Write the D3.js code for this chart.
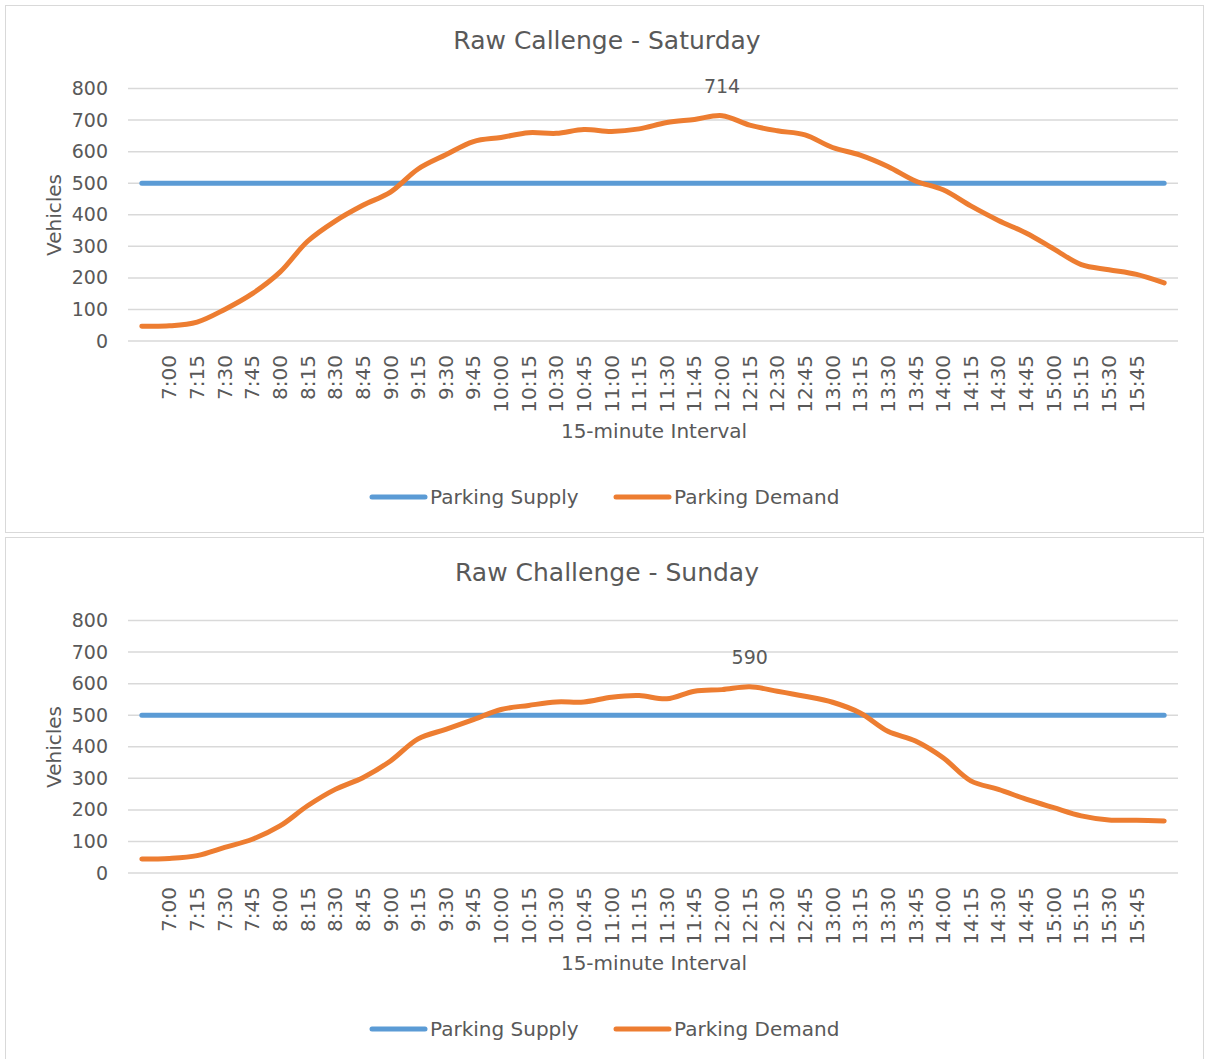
<!DOCTYPE html>
<html>
<head>
<meta charset="utf-8">
<script src="https://cdn.jsdelivr.net/npm/d3@7"></script>
<style>
  html, body { margin: 0; padding: 0; background: #fff; }
  svg text { font-family: "DejaVu Sans", sans-serif; fill: #595959; }
</style>
</head>
<body>
<svg id="chart" width="1206" height="1059"></svg>
<script>
// ---- data ----
const timeLabels = ["", "7:00", "7:15", "7:30", "7:45", "8:00", "8:15", "8:30", "8:45",
  "9:00", "9:15", "9:30", "9:45", "10:00", "10:15", "10:30", "10:45", "11:00", "11:15",
  "11:30", "11:45", "12:00", "12:15", "12:30", "12:45", "13:00", "13:15", "13:30", "13:45",
  "14:00", "14:15", "14:30", "14:45", "15:00", "15:15", "15:30", "15:45", ""];
const yTicks = [0, 100, 200, 300, 400, 500, 600, 700, 800];
const seriesNames = ["Parking Supply", "Parking Demand"];
const supplySat = timeLabels.map(() => 500);
const demandSat = [47, 48, 60, 100, 150, 218, 316, 380, 430, 472, 545, 590, 632, 645, 660, 658,
  670, 664, 672, 692, 702, 714, 684, 666, 653, 613, 589, 553, 507, 479, 428, 382, 342, 292,
  242, 226, 211, 184];
const supplySun = timeLabels.map(() => 500);
const demandSun = [44, 46, 55, 81, 107, 149, 213, 265, 302, 355, 425, 455, 486, 518, 531, 542,
  542, 557, 562, 552, 576, 581, 590, 576, 560, 541, 507, 449, 418, 365, 292, 265, 234, 207,
  181, 168, 167, 165];
const titles = ["Raw Callenge - Saturday", "Raw Challenge - Sunday"];

const colors = ["#5b9bd5", "#ed7d31"];
const svg = d3.select("#chart");

function drawPanel(offsetY, title, supply, demand) {
  const g = svg.append("g").attr("transform", `translate(0,${offsetY})`);
  g.append("rect").attr("x", 5.5).attr("y", 5.5).attr("width", 1198).attr("height", 527)
    .attr("fill", "#fff").attr("stroke", "#d9d9d9").attr("stroke-width", 1);

  const x = d3.scaleBand().domain(d3.range(timeLabels.length)).range([128, 1178]);
  const y = d3.scaleLinear().domain([0, 800]).range([341, 88.5]);
  const cx = i => x(i) + x.bandwidth() / 2;

  // gridlines
  g.append("g").selectAll("line").data(yTicks).join("line")
    .attr("x1", 128).attr("x2", 1178)
    .attr("y1", d => y(d)).attr("y2", d => y(d))
    .attr("stroke", "#d9d9d9").attr("stroke-width", 1.5);

  // y axis
  const ya = g.append("g").attr("transform", "translate(128,0)")
    .call(d3.axisLeft(y).tickValues(yTicks).tickSize(0).tickPadding(20));
  ya.select(".domain").remove();
  ya.selectAll("text").attr("font-size", 19).attr("fill", "#595959")
    .style("font-family", "'DejaVu Sans', sans-serif");

  // x axis
  const xa = g.append("g").attr("transform", "translate(0,341)")
    .call(d3.axisBottom(x).tickFormat(i => timeLabels[i]).tickSize(0));
  xa.select(".domain").remove();
  xa.selectAll("text")
    .attr("font-size", 20).attr("fill", "#595959")
    .style("font-family", "'DejaVu Sans', sans-serif")
    .attr("text-anchor", "end")
    .attr("transform", "rotate(-90)")
    .attr("x", -14).attr("y", 0).attr("dy", "0.35em");

  // titles
  g.append("text").attr("x", 607).attr("y", 49).attr("text-anchor", "middle")
    .attr("font-size", 25).text(title);
  g.append("text").attr("transform", "translate(61,215) rotate(-90)")
    .attr("text-anchor", "middle").attr("font-size", 20).text("Vehicles");
  g.append("text").attr("x", 654).attr("y", 438).attr("text-anchor", "middle")
    .attr("font-size", 20).text("15-minute Interval");

  // lines
  const line = d3.line().x((d, i) => cx(i)).y(d => y(d)).curve(d3.curveCatmullRom.alpha(0.5));
  [supply, demand].forEach((s, k) => {
    g.append("path").datum(s).attr("d", line).attr("fill", "none")
      .attr("stroke", colors[k]).attr("stroke-width", 5)
      .attr("stroke-linecap", "round").attr("stroke-linejoin", "round");
  });

  // peak label
  const peak = d3.maxIndex(demand);
  g.append("text").attr("x", cx(peak)).attr("y", y(demand[peak]) - 23)
    .attr("text-anchor", "middle").attr("font-size", 19).text(demand[peak]);

  // legend
  const legX = [372, 616];
  seriesNames.forEach((n, k) => {
    g.append("line").attr("x1", legX[k]).attr("x2", legX[k] + 53)
      .attr("y1", 497).attr("y2", 497)
      .attr("stroke", colors[k]).attr("stroke-width", 5).attr("stroke-linecap", "round");
    g.append("text").attr("x", legX[k] + 58).attr("y", 504)
      .attr("font-size", 20).text(n);
  });
}

drawPanel(0, titles[0], supplySat, demandSat);
drawPanel(532, titles[1], supplySun, demandSun);
</script>
</body>
</html>
